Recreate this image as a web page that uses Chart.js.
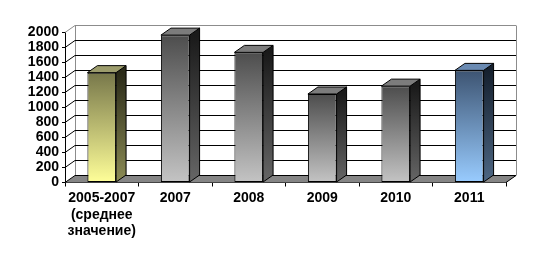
<!DOCTYPE html>
<html>
<head>
<meta charset="utf-8">
<script src="https://cdn.jsdelivr.net/npm/chart.js@4.4.1/dist/chart.umd.min.js"></script>
<style>
  html, body { margin: 0; padding: 0; background: #fff; }
  #wrap { width: 557px; height: 254px; }
</style>
</head>
<body>
<div id="wrap"><canvas id="chart"></canvas></div>
<script>
// --- data ---
const categories = [['2005-2007', '(среднее', 'значение)'], '2007', '2008', '2009', '2010', '2011'];
const values = [1465, 1965, 1735, 1180, 1285, 1495];
const yTicks = [0, 200, 400, 600, 800, 1000, 1200, 1400, 1600, 1800, 2000];

// --- per-bar colours (front top, front bottom, side top, side bottom, top face) ---
const frontTop    = ['#77774a', '#4d4d4d', '#4d4d4d', '#4d4d4d', '#4d4d4d', '#3d5472'];
const frontBottom = ['#ffff99', '#c4c4c4', '#c4c4c4', '#c4c4c4', '#c4c4c4', '#99ccff'];
const sideTop     = ['#2a2a18', '#1a1a1a', '#1a1a1a', '#1a1a1a', '#1a1a1a', '#15202e'];
const sideBottom  = ['#8c8c55', '#666666', '#666666', '#666666', '#666666', '#4d6784'];
const topFace     = ['#9c9c6c', '#7c7c7c', '#7c7c7c', '#7c7c7c', '#7c7c7c', '#6a8ab2'];

const DX = 10, DY = -7;   // 3d depth offset
const FONT = { family: '"Liberation Sans", Arial, sans-serif', size: 14, weight: 'bold' };
const yMin = yTicks[0], yMax = yTicks[yTicks.length - 1];

function frontGradient(context) {
    const chart = context.chart;
    const area = chart.chartArea;
    if (!area) return frontBottom[context.dataIndex];
    const ys = chart.scales.y;
    const top = ys.getPixelForValue(context.raw);
    const base = ys.getPixelForValue(0);
    const g = chart.ctx.createLinearGradient(0, top, 0, base);
    g.addColorStop(0, frontTop[context.dataIndex]);
    g.addColorStop(1, frontBottom[context.dataIndex]);
    return g;
}

// walls, floor and grid behind the bars
const walls3d = {
    id: 'walls3d',
    beforeDatasetsDraw(chart) {
        const ctx = chart.ctx, a = chart.chartArea, ys = chart.scales.y;
        const L = a.left, R = a.right, B = a.bottom, T = a.top;
        ctx.save();
        // floor
        ctx.fillStyle = '#858585';
        ctx.beginPath();
        ctx.moveTo(L, B); ctx.lineTo(R, B); ctx.lineTo(R + DX, B + DY); ctx.lineTo(L + DX, B + DY);
        ctx.closePath(); ctx.fill();
        ctx.lineWidth = 1;
        // back wall verticals
        ctx.strokeStyle = '#8c8c8c';
        ctx.beginPath();
        ctx.moveTo(Math.round(L + DX) + 0.5, T + DY); ctx.lineTo(Math.round(L + DX) + 0.5, B + DY);
        ctx.moveTo(Math.round(R + DX) + 0.5, T + DY); ctx.lineTo(Math.round(R + DX) + 0.5, B + DY);
        ctx.stroke();
        // gridlines: back wall + left wall diagonals
        ys.ticks.forEach(t => {
            const py = ys.getPixelForValue(t.value);
            ctx.strokeStyle = t.value === yMax ? '#8c8c8c' : '#000';
            ctx.beginPath();
            ctx.moveTo(L + DX, py + DY); ctx.lineTo(R + DX, py + DY);
            ctx.moveTo(L, py); ctx.lineTo(L + DX, py + DY);
            ctx.stroke();
        });
        // floor right edge
        ctx.strokeStyle = '#000';
        ctx.beginPath();
        ctx.moveTo(R, B); ctx.lineTo(R + DX, B + DY);
        ctx.stroke();
        ctx.restore();
    }
};

// side and top faces of each bar
const bars3d = {
    id: 'bars3d',
    afterDatasetsDraw(chart) {
        const ctx = chart.ctx;
        const meta = chart.getDatasetMeta(0);
        ctx.save();
        ctx.lineWidth = 1;
        ctx.strokeStyle = '#000';
        meta.data.forEach((el, i) => {
            const p = el.getProps(['x', 'y', 'base', 'width'], true);
            const xl = p.x - p.width / 2, xr = p.x + p.width / 2;
            const top = p.y, base = p.base;
            // side
            const g = ctx.createLinearGradient(0, top, 0, base);
            g.addColorStop(0, sideTop[i]);
            g.addColorStop(1, sideBottom[i]);
            ctx.fillStyle = g;
            ctx.beginPath();
            ctx.moveTo(xr, top); ctx.lineTo(xr + DX, top + DY);
            ctx.lineTo(xr + DX, base + DY); ctx.lineTo(xr, base);
            ctx.closePath(); ctx.fill(); ctx.stroke();
            // top
            ctx.fillStyle = topFace[i];
            ctx.beginPath();
            ctx.moveTo(xl, top); ctx.lineTo(xl + DX, top + DY);
            ctx.lineTo(xr + DX, top + DY); ctx.lineTo(xr, top);
            ctx.closePath(); ctx.fill(); ctx.stroke();
        });
        ctx.restore();
    }
};

new Chart(document.getElementById('chart'), {
    type: 'bar',
    data: {
        labels: categories,
        datasets: [{
            data: values,
            backgroundColor: frontGradient,
            borderColor: '#000',
            borderWidth: 1,
            borderSkipped: false,
            categoryPercentage: 1,
            barPercentage: 0.39
        }]
    },
    options: {
        responsive: true,
        maintainAspectRatio: false,
        animation: false,
        layout: { padding: { top: 32.5, right: 51, left: 0, bottom: 0 } },
        plugins: { legend: { display: false }, tooltip: { enabled: false } },
        scales: {
            x: {
                grid: { display: true, drawOnChartArea: false, tickLength: 4, color: '#000', offset: true },
                border: { display: true, color: '#000' },
                ticks: { color: '#000', font: FONT, padding: 3, maxRotation: 0, autoSkip: false },
                afterFit(s) { s.height = 71.5; }
            },
            y: {
                min: yMin, max: yMax,
                grid: { display: true, drawOnChartArea: false, tickLength: 3, color: '#000' },
                border: { display: true, color: '#000' },
                ticks: { color: '#000', font: FONT, padding: 3, autoSkip: false, callback: v => String(v) },
                afterBuildTicks(s) { s.ticks = yTicks.map(v => ({ value: v })); },
                afterFit(s) { s.width = 65; }
            }
        }
    },
    plugins: [walls3d, bars3d]
});
</script>
</body>
</html>
